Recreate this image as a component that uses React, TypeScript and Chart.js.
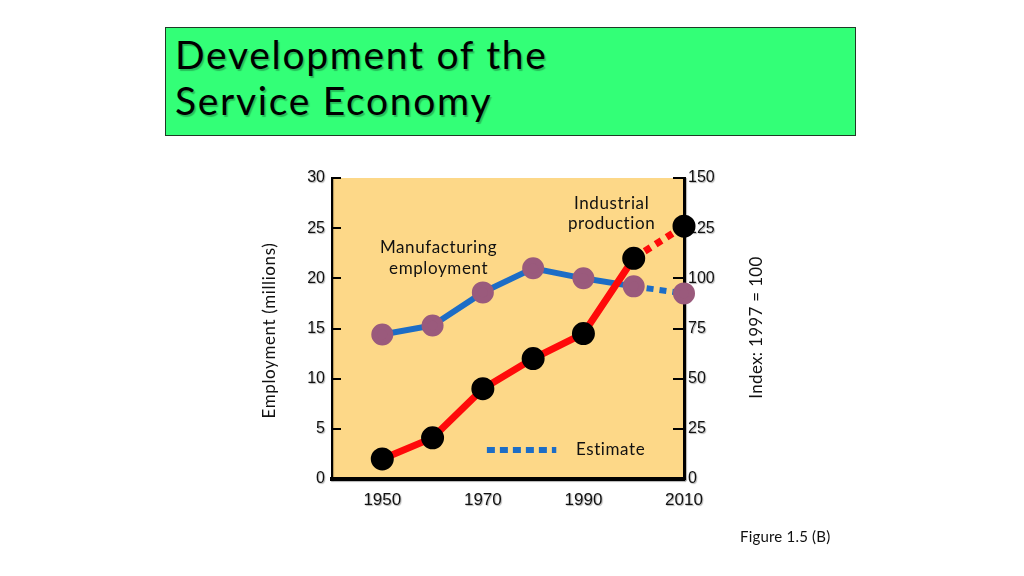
import React, { useEffect, useRef } from 'react';
import { Chart, registerables } from 'chart.js';

Chart.register(...registerables);

// ---- data ----
const years = [1950, 1960, 1970, 1980, 1990, 2000, 2010];
const manufacturingEmployment = [14.4, 15.3, 18.6, 21.0, 20.0, 19.2, 18.5]; // millions (left axis)
const industrialProduction = [10, 20.5, 45, 60, 72.5, 110, 126]; // index 1997 = 100 (right axis)
const estimateStartYear = 2000;
const xTickYears = [1950, 1970, 1990, 2010];
const leftTicks = [0, 5, 10, 15, 20, 25, 30];
const rightTicks = [0, 25, 50, 75, 100, 125, 150];
const titleLines = ['Development of the', 'Service Economy'];
const leftAxisTitle = 'Employment (millions)';
const rightAxisTitle = 'Index: 1997 = 100';
const manufacturingLabel = ['Manufacturing', 'employment'];
const industrialLabel = ['Industrial', 'production'];
const estimateLabel = 'Estimate';
const caption = 'Figure 1.5 (B)';

const BLUE = '#1C6DC6';
const MAUVE = '#9A5A7C';
const RED = '#FF0A0A';
const PLOT_BG = '#FDD888';
const TEXT_FONT = 'Lato, "Open Sans", sans-serif';
const TICK_FONT = '"Liberation Sans", Arial, sans-serif';

const toPoints = (vals: number[], from: number, to: number) =>
  years.map((y, i) => ({ x: y, y: vals[i] })).filter((p) => p.x >= from && p.x <= to);

const overlayPlugin = {
  id: 'overlay',
  beforeDraw(chart: any) {
    const { ctx, chartArea: a } = chart;
    ctx.save();
    ctx.fillStyle = PLOT_BG;
    ctx.fillRect(a.left, a.top, a.right - a.left, a.bottom - a.top);
    ctx.restore();
    // soft text shadow for the axis labels (scales are drawn next)
    ctx.save();
    ctx.shadowColor = 'rgba(0,0,0,0.3)';
    ctx.shadowOffsetX = 1;
    ctx.shadowOffsetY = 1;
    ctx.shadowBlur = 1;
  },
  beforeDatasetsDraw(chart: any) {
    const { ctx, chartArea: a, scales } = chart;
    ctx.restore();
    const x = scales.x, y = scales.y, y2 = scales.y2;
    ctx.save();
    // inner tick marks
    ctx.strokeStyle = '#000';
    ctx.lineWidth = 2;
    leftTicks.forEach((v) => {
      const py = Math.round(y.getPixelForValue(v));
      ctx.beginPath();
      ctx.moveTo(a.left, py);
      ctx.lineTo(a.left + 9, py);
      ctx.stroke();
    });
    rightTicks.forEach((v) => {
      const py = Math.round(y2.getPixelForValue(v));
      ctx.beginPath();
      ctx.moveTo(a.right - 11, py);
      ctx.lineTo(a.right, py);
      ctx.stroke();
    });

    // annotations
    ctx.fillStyle = '#111';
    ctx.font = `17px ${TEXT_FONT}`;
    (ctx as any).letterSpacing = '0.6px';
    ctx.textAlign = 'center';
    ctx.textBaseline = 'middle';
    ctx.fillText(industrialLabel[0], x.getPixelForValue(1995.6), y.getPixelForValue(27.5));
    ctx.fillText(industrialLabel[1], x.getPixelForValue(1995.6), y.getPixelForValue(25.5));
    ctx.fillText(manufacturingLabel[0], x.getPixelForValue(1961.2), y.getPixelForValue(23.1));
    ctx.fillText(manufacturingLabel[1], x.getPixelForValue(1961.2), y.getPixelForValue(21.0));
    ctx.textAlign = 'left';
    ctx.fillText(estimateLabel, x.getPixelForValue(1988.5), y.getPixelForValue(2.9));

    // estimate legend sample
    ctx.strokeStyle = BLUE;
    ctx.lineWidth = 6;
    ctx.setLineDash([8, 5]);
    ctx.beginPath();
    const ly = y.getPixelForValue(2.9);
    ctx.moveTo(x.getPixelForValue(1970.8), ly);
    ctx.lineTo(x.getPixelForValue(1984.6), ly);
    ctx.stroke();
    ctx.setLineDash([]);

    // axis titles
    ctx.fillStyle = '#111';
    ctx.font = `17px ${TEXT_FONT}`;
    ctx.textAlign = 'center';
    const midY = (a.top + a.bottom) / 2;
    ctx.save();
    (ctx as any).letterSpacing = '0.6px';
    ctx.translate(270, midY + 2);
    ctx.rotate(-Math.PI / 2);
    ctx.fillText(leftAxisTitle, 0, 0);
    ctx.restore();
    ctx.save();
    (ctx as any).letterSpacing = '0.3px';
    ctx.translate(757, midY - 1);
    ctx.rotate(-Math.PI / 2);
    ctx.fillText(rightAxisTitle, 0, 0);
    ctx.restore();
    ctx.restore();
  },
};

export default function App() {
  const ref = useRef<HTMLCanvasElement>(null);
  useEffect(() => {
    if (!ref.current) return;
    const pt = (r: number) => (ctx: any) => (ctx.raw && ctx.raw.x === estimateStartYear ? 0 : r);
    const chart = new Chart(ref.current, {
      type: 'line',
      data: {
        datasets: [
          {
            label: 'Industrial production',
            data: toPoints(industrialProduction, 1950, estimateStartYear),
            yAxisID: 'y2',
            borderColor: RED,
            borderWidth: 7,
            pointBackgroundColor: '#000',
            pointBorderColor: '#000',
            pointRadius: 8,
            pointHoverRadius: 8,
            tension: 0,
            clip: false as any,
          },
          {
            label: 'Industrial production (estimate)',
            data: toPoints(industrialProduction, estimateStartYear, 2010),
            yAxisID: 'y2',
            borderColor: RED,
            borderWidth: 7,
            borderDash: [7, 6],
            pointBackgroundColor: '#000',
            pointBorderColor: '#000',
            pointRadius: pt(8) as any,
            tension: 0,
            clip: false as any,
          },
          {
            label: 'Manufacturing employment',
            data: toPoints(manufacturingEmployment, 1950, estimateStartYear),
            yAxisID: 'y',
            borderColor: BLUE,
            borderWidth: 6,
            pointBackgroundColor: MAUVE,
            pointBorderColor: MAUVE,
            pointRadius: 8,
            tension: 0,
            clip: false as any,
          },
          {
            label: 'Manufacturing employment (estimate)',
            data: toPoints(manufacturingEmployment, estimateStartYear, 2010),
            yAxisID: 'y',
            borderColor: BLUE,
            borderWidth: 6,
            borderDash: [7, 6],
            pointBackgroundColor: MAUVE,
            pointBorderColor: MAUVE,
            pointRadius: pt(8) as any,
            tension: 0,
            clip: false as any,
          },
        ],
      },
      options: {
        animation: false,
        responsive: false,
        devicePixelRatio: 1,
        layout: { padding: { top: 178, left: 0, right: 0, bottom: 0 } },
        plugins: { legend: { display: false }, tooltip: { enabled: false } },
        events: [],
        scales: {
          x: {
            type: 'linear',
            min: 1940,
            max: 2010,
            afterBuildTicks: (s: any) => {
              s.ticks = xTickYears.map((v) => ({ value: v }));
            },
            afterFit: (s: any) => {
              s.height = 97;
            },
            grid: { display: false, drawTicks: false },
            border: { display: true, color: '#000', width: 4 },
            ticks: {
              padding: 11,
              color: '#111',
              maxRotation: 0,
              autoSkip: false,
              font: { family: TICK_FONT, size: 17 },
              callback: (v: any) => String(v),
            },
          },
          y: {
            position: 'left',
            min: 0,
            max: 30,
            afterBuildTicks: (s: any) => {
              s.ticks = leftTicks.map((v) => ({ value: v }));
            },
            afterFit: (s: any) => {
              s.width = 332;
            },
            grid: { display: false, drawTicks: false },
            border: { display: true, color: '#000', width: 2 },
            ticks: {
              padding: 7,
              color: '#111',
              font: { family: TICK_FONT, size: 16 },
            },
          },
          y2: {
            position: 'right',
            min: 0,
            max: 150,
            afterBuildTicks: (s: any) => {
              s.ticks = rightTicks.map((v) => ({ value: v }));
            },
            afterFit: (s: any) => {
              s.width = 340;
            },
            grid: { display: false, drawTicks: false },
            border: { display: true, color: '#000', width: 3 },
            ticks: {
              padding: 4,
              color: '#111',
              font: { family: TICK_FONT, size: 16 },
            },
          },
        },
      } as any,
      plugins: [overlayPlugin],
    });
    return () => chart.destroy();
  }, []);

  return (
    <div style={{ position: 'absolute', left: 0, top: 0, width: 1024, height: 576, background: '#fff', overflow: 'hidden' }}>
      <canvas ref={ref} width={1024} height={576} style={{ position: 'absolute', left: 0, top: 0, width: 1024, height: 576 }} />
      <div
        style={{
          position: 'absolute',
          left: 165,
          top: 27,
          width: 689,
          height: 107,
          background: '#33FF77',
          border: '1px solid #1f3a26',
          boxSizing: 'content-box',
        }}
      >
        <div
          style={{
            position: 'absolute',
            left: 9,
            top: 3,
            fontFamily: TEXT_FONT,
            fontSize: 39,
            lineHeight: '46px',
            letterSpacing: '1.7px',
            color: '#000',
            textShadow: '1.5px 1.5px 1px rgba(0,0,0,0.25)',
            whiteSpace: 'nowrap',
          }}
        >
          {titleLines[0]}
          <br />
          {titleLines[1]}
        </div>
      </div>
      <div
        style={{
          position: 'absolute',
          left: 740,
          top: 527,
          fontFamily: TEXT_FONT,
          fontSize: 15,
          letterSpacing: '0.2px',
          color: '#111',
          whiteSpace: 'nowrap',
        }}
      >
        {caption}
      </div>
    </div>
  );
}
